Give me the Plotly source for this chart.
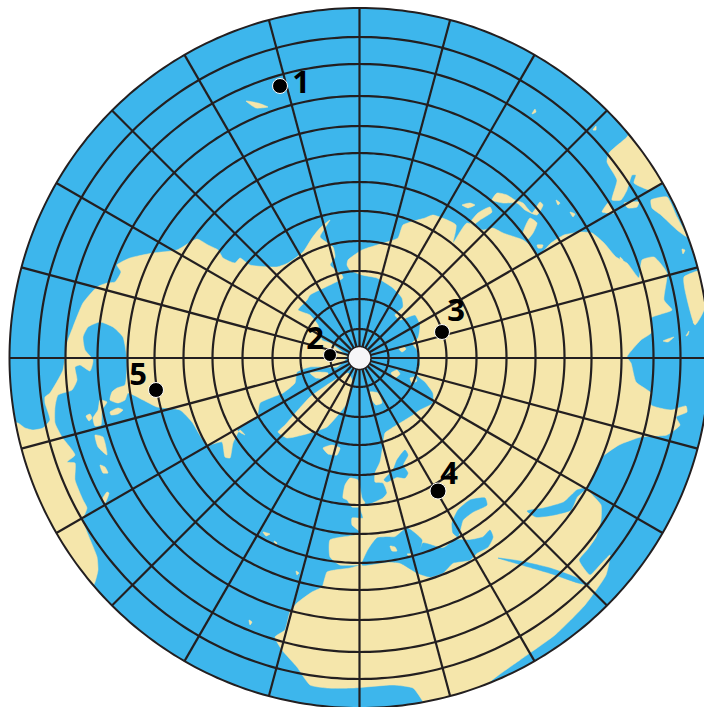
import numpy as np
import plotly.graph_objects as go

POLE = (359.5, 358.0)
RIM = 350
HOLE = 11.5
parallels = [29, 59, 87, 117, 147, 176, 205, 232, 262, 294, 321]
meridians = list(range(0, 360, 15))

OCEAN = "#3db6ec"
LAND = "#f5e6ab"
INK = "#231f20"

north_america = [(330,220),(320,237),(333,247),(335,257),(330,265),(342,275),(343,278),(330,285),(310,295),(307,300),(298,310),(310,315),(318,325),(322,340),(330,343),(347,357),(337,367),(323,367),(310,367),(297,372),(295,383),(283,393),(260,403),(257,417),(250,420),(237,430),(245,435),(240,430),(233,443),(230,458),(225,457),(222,442),(207,445),(192,422),(180,410),(157,407),(143,400),(128,393),(125,400),(118,403),(110,400),(112,392),(117,388),(125,385),(127,360),(123,337),(113,327),(100,322),(88,327),(83,337),(85,350),(93,360),(90,371),(80,365),(75,367),(77,380),(72,390),(58,395),(55,407),(55,423),(62,437),(75,455),(67,462),(75,463),(75,480),(83,500),(87,508),(83,520),(97,557),(98,570),(95,582),(85,600),(0,500),(5,423),(18,423),(25,428),(33,430),(43,428),(50,420),(45,403),(45,397),(50,393),(63,370),(67,343),(73,327),(83,303),(97,287),(107,283),(115,282),(121,272),(117,265),(130,258),(153,253),(177,250),(197,239),(208,245),(218,250),(223,258),(235,263),(240,258),(250,265),(277,267),(288,263),(303,252),(312,238),(320,228)]

eurasia_africa = [(348,260),(347,265),(350,270),(362,275),(377,278),(393,288),(402,298),(403,307),(395,315),(400,320),(415,315),(420,325),(418,338),(412,343),(417,350),(420,365),(417,375),(425,382),(433,393),(433,403),(420,410),(413,415),(405,420),(392,428),(385,433),(383,445),(380,462),(375,473),(375,482),(383,483),(387,493),(383,498),(368,505),(360,507),(363,518),(352,518),(352,525),(360,532),(355,535),(330,540),(330,557),(340,565),(360,565),(350,568),(335,570),(327,572),(322,587),(312,592),(297,603),(290,612),(285,630),(275,637),(282,650),(297,667),(310,685),(327,688),(353,688),(393,685),(413,688),(422,700),(430,715),(480,700),(490,682),(520,660),(555,635),(585,605),(606,575),(610,555),(600,565),(590,575),(579,560),(587,550),(596,537),(601,520),(601,505),(587,488),(592,477),(601,458),(619,445),(641,437),(667,435),(680,425),(676,417),(687,412),(686,406),(671,410),(651,405),(651,393),(636,382),(631,363),(627,357),(641,340),(651,333),(651,318),(672,310),(664,300),(667,273),(654,257),(642,260),(639,278),(627,263),(616,257),(604,243),(592,233),(581,232),(564,235),(551,243),(537,257),(533,248),(523,240),(503,233),(493,228),(483,230),(467,223),(460,232),(453,243),(456,225),(433,215),(425,218),(403,225),(398,238),(387,242),(362,250)]

greenland = [(352,380),(348,373),(330,383),(310,397),(298,410),(285,425),(278,432),(287,438),(310,433),(327,427),(338,415),(347,403)]
baffin = [(310,373),(318,372),(328,373),(327,378),(316,378)]
iceland = [(323,448),(332,445),(340,448),(337,455),(328,454)]
svalbard = [(370,392),(378,393),(382,403),(376,405),(372,400)]
britain = [(350,478),(358,480),(362,498),(365,503),(360,507),(352,507),(347,500),(343,498),(345,485)]
australia = [(627,137),(609,153),(607,162),(617,180),(612,200),(621,200),(627,190),(632,175),(636,175),(634,183),(650,190),(665,182),(680,160),(640,120)]
australia_bit = [(602,212),(609,202),(614,213),(607,213)]
tasman_bit = [(624,203),(639,202),(637,207),(628,208)]
borneo = [(651,200),(667,197),(677,217),(687,237),(677,230),(661,215),(652,208)]
east_edge = [(684,277),(704,270),(704,310),(695,325),(685,290)]
sakhalin = [(470,223),(478,213),(490,207),(492,212),(480,220),(473,225)]
japan = [(497,193),(507,195),(515,200),(523,203),(532,213),(540,202),(543,205),(537,215),(525,210),(517,203),(503,203),(492,200)]
philippines = [(523,233),(530,218),(537,223),(533,233),(527,240)]
kuril = [(462,205),(470,203),(475,205),(468,208)]
islet_a = [(537,245),(543,245),(542,248),(538,248)]
islet_b = [(246,101),(258,103),(268,107),(256,108)]
islet_c = [(532,114),(535,109),(536,112)]
islet_d = [(593,130),(596,126),(596,130)]
islet_e = [(556,200),(560,203),(558,205)]
islet_f = [(570,212),(575,214),(573,217)]
islet_g = [(620,257),(623,260),(621,264)]
islet_h = [(682,249),(685,250),(683,254)]
islet_i = [(663,341),(674,337),(668,342)]
islet_j = [(686,336),(689,331),(688,335)]
islet_k = [(693,323),(697,319),(695,323)]
arctic_a = [(399,349),(403,346),(406,349),(402,352)]
arctic_b = [(391,373),(397,370),(400,374),(395,378)]
arctic_c = [(410,378),(415,377),(417,381),(412,383)]
cuba = [(93,418),(98,410),(100,400),(107,402),(102,410),(101,425),(95,426)]
antilles_a = [(95,435),(103,437),(107,455),(98,447)]
antilles_b = [(100,465),(105,467),(108,473),(103,473)]
antilles_c = [(107,492),(109,493),(105,503),(102,500)]
antilles_d = [(110,412),(118,408),(123,410),(118,414),(111,415)]
antilles_e = [(86,416),(90,414),(92,418),(89,421)]
azores_a = [(263,532),(270,534),(266,536)]
azores_b = [(274,541),(277,543),(276,545)]
azores_c = [(296,571),(299,573),(297,575)]
azores_d = [(249,620),(252,622),(250,625)]
sardinia = [(390,546),(395,547),(397,551),(392,551)]
sicily = [(407,554),(413,554),(411,557)]

caspian = [(470,500),(485,498),(487,505),(473,512),(463,520),(458,537),(453,533),(452,523),(458,510)]
baltic = [(405,450),(408,455),(403,465),(408,473),(405,478),(397,477),(387,482),(384,480),(393,470),(397,460)]
mediterranean = [(362,565),(368,550),(377,538),(387,537),(395,537),(407,528),(422,540),(420,550),(423,543),(443,548),(455,540),(470,540),(483,537),(490,530),(493,537),(488,547),(477,553),(470,560),(453,563),(443,573),(430,577),(417,573),(400,563),(387,562)]
persian_gulf = [(527,511),(544,508),(564,502),(577,490),(587,488),(577,497),(571,510),(554,515),(536,517)]
red_sea = [(498,558),(520,561),(550,568),(575,577),(590,585),(578,583),(552,574),(525,566)]

land_shapes = [north_america, eurasia_africa, greenland, baffin, iceland, svalbard, britain, australia, australia_bit, tasman_bit, borneo, east_edge]
sea_shapes = [caspian, baltic, mediterranean, persian_gulf, red_sea]
island_shapes = [sakhalin, japan, philippines, kuril, islet_a, islet_b, islet_c, islet_d, islet_e, islet_f, islet_g, islet_h, islet_i, islet_j, islet_k, arctic_a, arctic_b, arctic_c, cuba, antilles_a, antilles_b, antilles_c, antilles_d, antilles_e, azores_a, azores_b, azores_c, azores_d, sardinia, sicily]

site_labels = ["<b>1</b>", "<b>2</b>", "<b>3</b>", "<b>4</b>", "<b>5</b>"]
site_x = [280, 330, 442, 438, 156]
site_y = [86, 355, 332, 491, 390]
site_size = [15, 13, 15, 16, 15]
label_x = [301, 315, 456, 449, 138]
label_y = [85, 341, 313, 476, 377]


def circle(radius):
    a = np.linspace(0, 2 * np.pi, 361)
    return POLE[0] + radius * np.cos(a), POLE[1] + radius * np.sin(a)


def area(points, colour):
    xs, ys = zip(*points)
    return go.Scatter(x=list(xs) + [xs[0]], y=list(ys) + [ys[0]], mode="lines", fill="toself",
                      fillcolor=colour, line=dict(color=colour, width=0.5, shape="spline", smoothing=0.5, simplify=False),
                      hoverinfo="skip")


fig = go.Figure()
x, y = circle(RIM)
fig.add_trace(go.Scatter(x=x, y=y, mode="lines", fill="toself", fillcolor=OCEAN,
                         line=dict(width=0, simplify=False), hoverinfo="skip"))
for p in land_shapes:
    fig.add_trace(area(p, LAND))
for p in sea_shapes:
    fig.add_trace(area(p, OCEAN))
for p in island_shapes:
    fig.add_trace(area(p, LAND))

x, y = circle(RIM + 35)
fig.add_trace(go.Scatter(x=x, y=y, mode="lines", line=dict(color="white", width=70, simplify=False), hoverinfo="skip"))

for r in parallels:
    x, y = circle(r)
    fig.add_trace(go.Scatter(x=x, y=y, mode="lines", line=dict(color=INK, width=2.2, simplify=False), hoverinfo="skip"))
for m in meridians:
    a = np.deg2rad(m)
    fig.add_trace(go.Scatter(x=[POLE[0] + HOLE * np.cos(a), POLE[0] + RIM * np.cos(a)],
                             y=[POLE[1] + HOLE * np.sin(a), POLE[1] + RIM * np.sin(a)],
                             mode="lines", line=dict(color=INK, width=2.2), hoverinfo="skip"))
x, y = circle(RIM)
fig.add_trace(go.Scatter(x=x, y=y, mode="lines", line=dict(color=INK, width=2, simplify=False), hoverinfo="skip"))
x, y = circle(HOLE)
fig.add_trace(go.Scatter(x=x, y=y, mode="lines", fill="toself", fillcolor="#f6f6f8",
                         line=dict(color=INK, width=1.5, simplify=False), hoverinfo="skip"))

fig.add_trace(go.Scatter(x=site_x, y=site_y, mode="markers",
                         marker=dict(color="black", size=site_size, opacity=1), hoverinfo="skip"))
fig.add_trace(go.Scatter(x=label_x, y=label_y, mode="text", text=site_labels,
                         textposition="middle center",
                         textfont=dict(family="Open Sans", size=31, color="black"), hoverinfo="skip"))

fig.update_layout(width=704, height=707, margin=dict(l=0, r=0, t=0, b=0), showlegend=False,
                  paper_bgcolor="white", plot_bgcolor="white",
                  xaxis=dict(range=[0, 704], visible=False),
                  yaxis=dict(range=[707, 0], visible=False))
fig.write_html("out.html", config={"displayModeBar": False},
               post_script="document.body.style.margin='0';document.documentElement.style.overflow='hidden';")
